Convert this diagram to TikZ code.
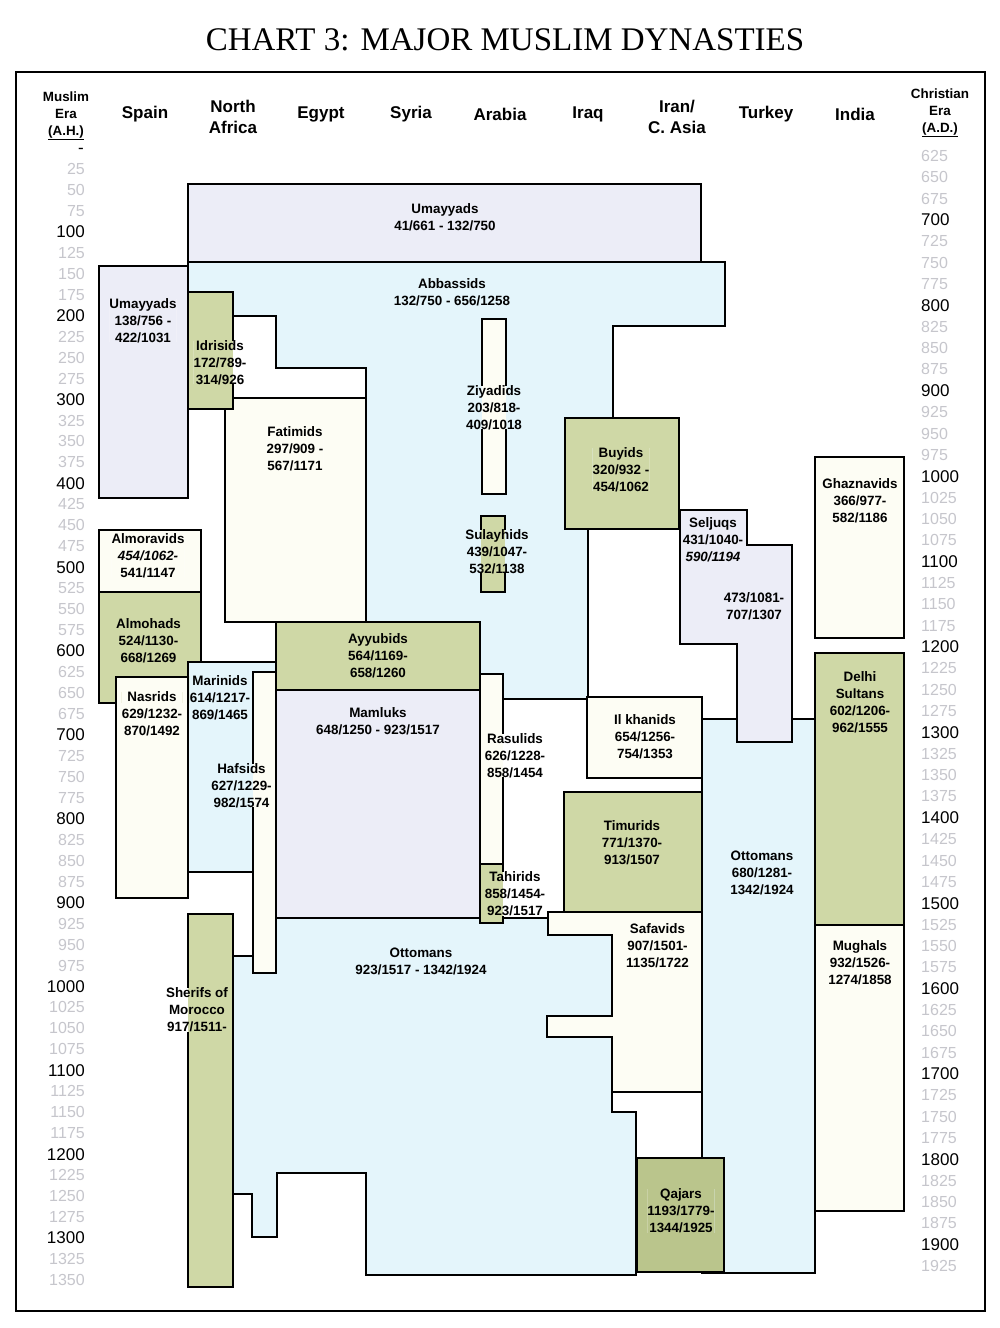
\documentclass[tikz,border=0pt]{standalone}
\usepackage{fontspec}
\setmainfont{Liberation Sans}
\newfontfamily\serifttl{Liberation Serif}
\definecolor{lavc}{HTML}{ECEDF7}
\definecolor{bluc}{HTML}{E4F5FB}
\definecolor{grnc}{HTML}{CFD8A6}
\definecolor{crmc}{HTML}{FDFDF4}
\definecolor{qajc}{HTML}{BAC58C}
\definecolor{axgc}{HTML}{C6C6CC}
\tikzset{
  dyn/.style={draw=black, line width=1.5pt, line join=miter},
  lav/.style={dyn, fill=lavc},
  blu/.style={dyn, fill=bluc},
  grn/.style={dyn, fill=grnc},
  crm/.style={dyn, fill=crmc},
  qaj/.style={dyn, fill=qajc},
  lbl/.style={font=\fontsize{13.4}{17}\selectfont\bfseries, align=center, inner sep=0pt, text=black},
  hdr/.style={font=\fontsize{17}{21.5}\selectfont\bfseries, align=center, inner sep=0pt},
  era/.style={font=\fontsize{13.4}{17}\selectfont\bfseries, align=center, inner sep=0pt},
  axb/.style={font=\fontsize{17}{20}\selectfont, inner sep=0pt, text=black},
  axg/.style={font=\fontsize{16}{20}\selectfont, inner sep=0pt, text=axgc},
}
% all dynasty shapes, in stacking order
\newcommand\dynshapes{%
  \draw[lav] (188,184) rectangle (701,262);   % Umayyads
  \draw[blu] (188,262) -- (725,262) -- (725,326) -- (613,326) -- (613,529) -- (588,529) -- (588,699)
    -- (503,699) -- (503,674) -- (480,674) -- (480,622) -- (366,622) -- (366,368) -- (276,368)
    -- (276,316) -- (233,316) -- (233,292) -- (188,292) -- cycle;  % Abbassids
  \draw[crm] (482,319) rectangle (506,494);   % Ziyadids
  \draw[grn] (481,516) rectangle (505,592);   % Sulayhids
  \draw[grn] (565,418) rectangle (679,529);   % Buyids
  \draw[lav] (99,266) rectangle (188,498);    % Umayyads of Spain
  \draw[crm] (225,398) rectangle (366,622);   % Fatimids
  \draw[grn] (188,292) rectangle (233,409);   % Idrisids
  \draw[crm] (99,530) rectangle (201,592);    % Almoravids
  \draw[grn] (99,592) rectangle (201,703);    % Almohads
  \draw[crm] (116,677) rectangle (188,898);   % Nasrids
  \draw[blu] (188,662) -- (276,662) -- (276,672) -- (253,672) -- (253,872) -- (188,872) -- cycle; % Marinids
  \draw[crm] (253,672) rectangle (276,973);   % Hafsids
  \draw[grn] (276,622) rectangle (480,690);   % Ayyubids
  \draw[lav] (276,690) rectangle (480,918);   % Mamluks
  \draw[blu] (276,918) -- (548,918) -- (548,935) -- (612,935) -- (612,1016) -- (547,1016) -- (547,1037)
    -- (612,1037) -- (612,1112) -- (636,1112) -- (636,1275) -- (366,1275) -- (366,1173) -- (277,1173)
    -- (277,1237) -- (252,1237) -- (252,1194) -- (233,1194) -- (233,956) -- (253,956) -- (253,973)
    -- (276,973) -- cycle;                     % Ottomans
  \draw[crm] (480,674) rectangle (503,864);   % Rasulids
  \draw[grn] (480,864) rectangle (503,923);   % Tahirids
  \draw[crm] (587,697) rectangle (702,778);   % Il khanids
  \draw[grn] (564,792) rectangle (702,912);   % Timurids
  \draw[blu] (702,719) rectangle (815,1273);  % Ottomans (Turkey)
  \draw[lav] (680,510) -- (747,510) -- (747,545) -- (792,545) -- (792,742) -- (737,742) -- (737,644)
    -- (680,644) -- cycle;                     % Seljuqs
  \draw[crm] (548,912) -- (702,912) -- (702,1092) -- (612,1092) -- (612,1037) -- (547,1037) -- (547,1016)
    -- (612,1016) -- (612,935) -- (548,935) -- cycle;  % Safavids
  \draw[dyn] (612,1092) -- (612,1112);
  \draw[dyn] (702,1092) -- (702,1158);
  \draw[qaj] (637,1158) rectangle (724,1272); % Qajars
  \draw[crm] (815,457) rectangle (904,638);   % Ghaznavids
  \draw[grn] (815,653) rectangle (904,925);   % Delhi Sultans
  \draw[crm] (815,925) rectangle (904,1211);  % Mughals
  \draw[grn] (188,914) rectangle (233,1287);  % Sherifs of Morocco
}
% a label that hides the outlines running under it
\newcommand\lab[4]{%
  \node[lbl] (#1) at (#2,#3) {#4};
  \begin{scope}[dyn/.style={draw=none}]
    \clip ([yshift=1.2pt]#1.south west) rectangle ([yshift=-1pt]#1.north east);
    \fill[white] (#1.south west) rectangle (#1.north east);
    \dynshapes
  \end{scope}
  \node[lbl] (#1) at (#2,#3) {#4};
}
\begin{document}
\begin{tikzpicture}[x=1pt, y=-1pt]
\useasboundingbox (0,0) rectangle (1000,1328);
\fill[white] (0,0) rectangle (1000,1328);
% title
\node[font=\serifttl\fontsize{33}{40}\selectfont, inner sep=0pt] (title) at (505,40) {CHART 3: MAJOR MUSLIM DYNASTIES};
% frame
\draw[line width=2.5pt] (16,72) rectangle (985,1311);
% headers
\node[era] (hah) at (66,116) {Muslim\\Era\\\underline{(A.H.)}};
\node[era] (had) at (940,113) {Christian\\Era\\\underline{(A.D.)}};
\node[hdr] (hspain) at (145,114) {Spain};
\node[hdr] (hnafr) at (233,117) {North\\Africa};
\node[hdr] (hegypt) at (321,114) {Egypt};
\node[hdr] (hsyria) at (411,114) {Syria};
\node[hdr] (harab) at (500,114) {Arabia};
\node[hdr] (hiraq) at (588,114) {Iraq};
\node[hdr] (hiran) at (677,117) {Iran/\\C. Asia};
\node[hdr] (hturk) at (766,114) {Turkey};
\node[hdr] (hind) at (855,114) {India};
% left axis
\node[axb, anchor=east] (ah0) at (84,151) {-};
\foreach \v in {25,50,...,1350}{
  \pgfmathsetmacro\yy{148+0.8385*\v}
  \pgfmathtruncatemacro\mm{mod(\v,100)}
  \ifnum\mm=0
    \node[axb, anchor=east] (ah\v) at (85,\yy) {\v};
  \else
    \node[axg, anchor=east] (ah\v) at (85,\yy) {\v};
  \fi
}
% right axis
\foreach \v in {625,650,...,1925}{
  \pgfmathsetmacro\yy{220+0.854*(\v-700)}
  \pgfmathtruncatemacro\mm{mod(\v,100)}
  \ifnum\mm=0
    \node[axb, anchor=west] (ad\v) at (921,\yy) {\v};
  \else
    \node[axg, anchor=west] (ad\v) at (921,\yy) {\v};
  \fi
}
% shapes
\dynshapes
% labels
\lab{lumay}{445}{217.5}{Umayyads\\41/661 - 132/750}
\lab{labba}{452}{292}{Abbassids\\132/750 - 656/1258}
\lab{lumsp}{143}{321}{Umayyads\\138/756 -\\422/1031}
\lab{lidri}{220}{363}{Idrisids\\172/789-\\314/926}
\lab{lfati}{295}{449}{Fatimids\\297/909 -\\567/1171}
\lab{lziya}{494}{408}{Ziyadids\\203/818-\\409/1018}
\lab{lbuyi}{621}{470}{Buyids\\320/932 -\\454/1062}
\lab{lsula}{497}{552}{Sulayhids\\439/1047-\\532/1138}
\lab{lselj}{713}{540}{Seljuqs\\431/1040-\\{\itshape 590/1194}}
\lab{lseljb}{754}{606}{473/1081-\\707/1307}
\lab{lghaz}{860}{501}{Ghaznavids\\366/977-\\582/1186}
\lab{ldelh}{860}{702}{Delhi\\Sultans\\602/1206-\\962/1555}
\lab{lalmr}{148}{556}{Almoravids\\{\itshape 454/1062-}\\541/1147}
\lab{lalmh}{148.5}{641}{Almohads\\524/1130-\\668/1269}
\lab{layyu}{378}{656}{Ayyubids\\564/1169-\\658/1260}
\lab{lmari}{220}{697.5}{Marinids\\614/1217-\\869/1465}
\lab{lnasr}{152}{714}{Nasrids\\629/1232-\\870/1492}
\lab{lmaml}{378}{721.5}{Mamluks\\648/1250 - 923/1517}
\lab{lhafs}{241.5}{786}{Hafsids\\627/1229-\\982/1574}
\lab{lrasu}{515}{756}{Rasulids\\626/1228-\\858/1454}
\lab{lilkh}{645}{737}{Il khanids\\654/1256-\\754/1353}
\lab{ltimu}{632}{843}{Timurids\\771/1370-\\913/1507}
\lab{ltahi}{515}{894}{Tahirids\\858/1454-\\923/1517}
\lab{lotttk}{762}{873}{Ottomans\\680/1281-\\1342/1924}
\lab{lsafa}{657.5}{946}{Safavids\\907/1501-\\1135/1722}
\lab{lotto}{421}{961.5}{Ottomans\\923/1517 - 1342/1924}
\lab{lsher}{197}{1010}{Sherifs of\\Morocco\\917/1511-}
\lab{lqaja}{681}{1211}{Qajars\\1193/1779-\\1344/1925}
\lab{lmugh}{860}{963}{Mughals\\932/1526-\\1274/1858}
\end{tikzpicture}
\end{document}
